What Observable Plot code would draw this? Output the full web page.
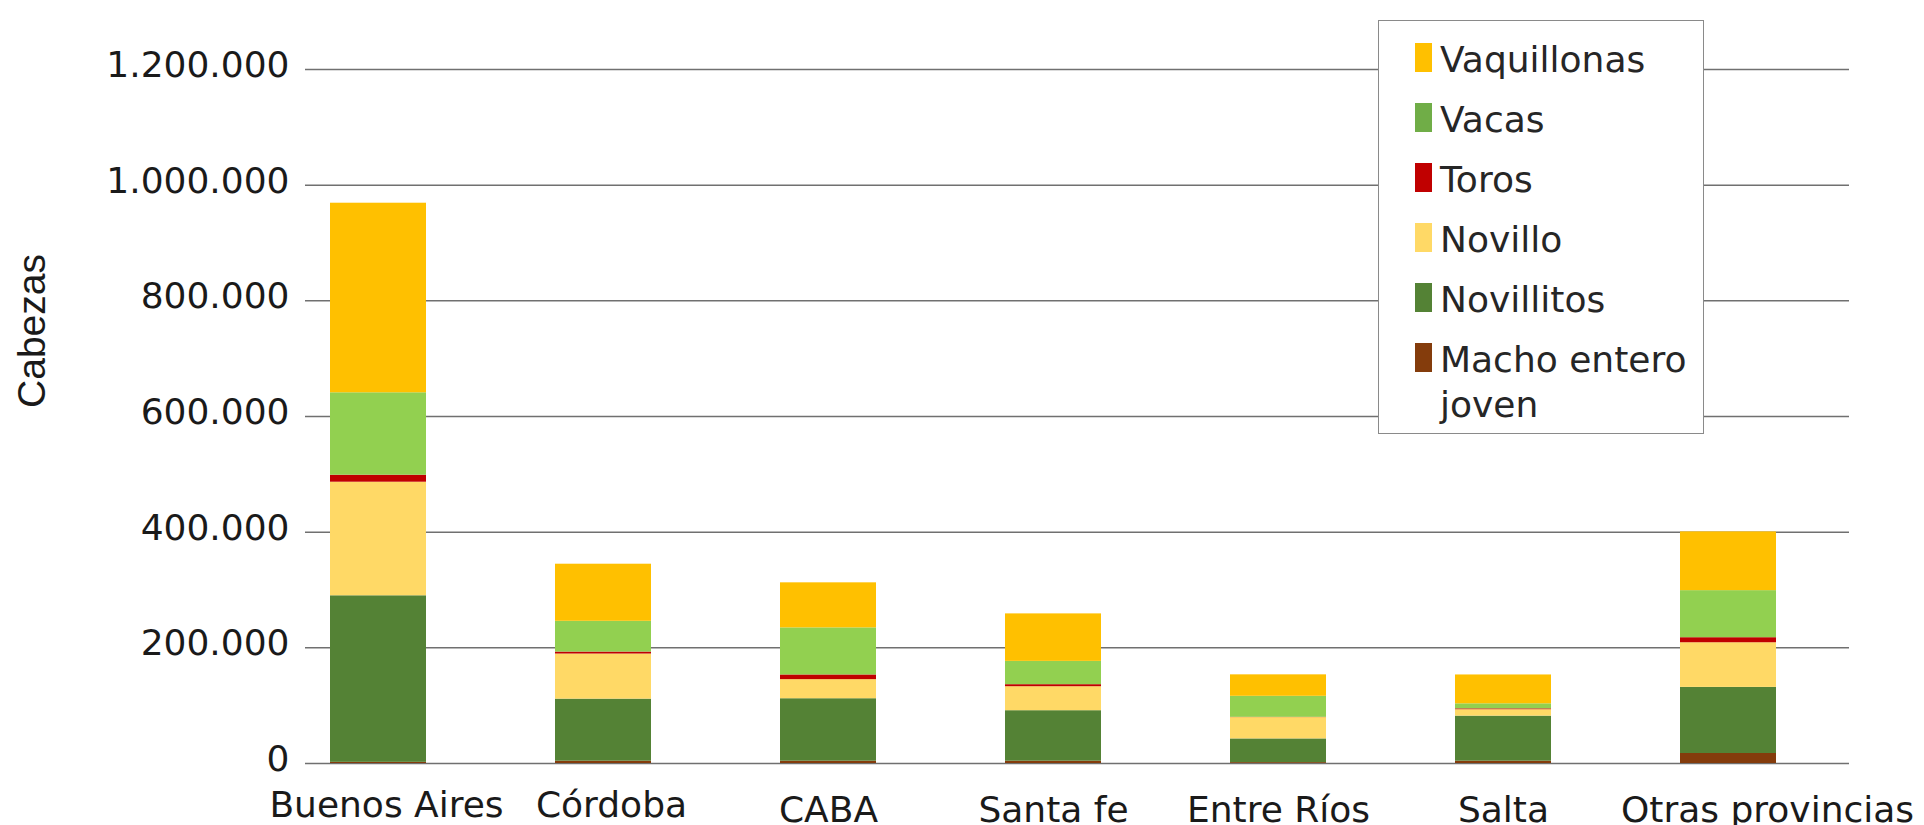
<!DOCTYPE html>
<html><head><meta charset="utf-8">
<script src="https://cdn.jsdelivr.net/npm/d3@7"></script>
<script src="https://cdn.jsdelivr.net/npm/@observablehq/plot@0.6"></script>
<style>
body{margin:0;background:#fff;}
#wrap{position:relative;width:1924px;height:825px;overflow:hidden;}
#chart svg{display:block;}
#ylabel{position:absolute;left:31px;top:331px;transform:translate(-50%,-50%) rotate(-90deg);
  font-family:"Liberation Sans";font-size:39px;color:#1a1a1a;white-space:nowrap;line-height:1;}
#legend{position:absolute;left:1378px;top:20px;width:326px;height:414px;border:1.5px solid #8a8a8a;background:#fff;
  font-family:"DejaVu Sans";font-size:36px;color:#262626;padding:16px 0 0 35.5px;box-sizing:border-box;}
.item{display:flex;align-items:flex-start;height:60px;}
.sw{width:17px;height:29px;margin-top:6px;margin-right:8.5px;flex:none;}
.lab{line-height:45px;width:255px;white-space:normal;}
</style>
</head><body>
<div id="wrap"><div id="chart"></div><div id="ylabel">Cabezas</div><div id="legend"></div></div>
<script>
// Data (stack order bottom -> top)
const provinces = ["Buenos Aires","Córdoba","CABA","Santa fe","Entre Ríos","Salta","Otras provincias"];
const categories = ["Macho entero joven","Novillitos","Novillo","Toros","Vacas","Vaquillonas"];
const macho       = [2000, 4000, 4000, 4000, 1500, 4000, 17300];
const novillitos  = [288000, 107300, 108000, 87300, 41000, 77900, 114300];
const novillo     = [196400, 78000, 33000, 41500, 36900, 11100, 77200];
const toros       = [12100, 3400, 8100, 3500, 500, 1500, 8700];
const vacas       = [142500, 53200, 81400, 40300, 36300, 8700, 81400];
const vaquillonas = [327800, 98700, 77900, 82100, 37100, 49900, 101600];
const yTicks = [0, 200000, 400000, 600000, 800000, 1000000, 1200000];

// Styles
const barColors = ["#843C0C","#548235","#FFD966","#C00000","#92D050","#FFC000"];
const legendColors = {"Vaquillonas":"#FFC000","Vacas":"#70AD47","Toros":"#C00000","Novillo":"#FFD966","Novillitos":"#548235","Macho entero joven":"#843C0C"};

const series = [macho, novillitos, novillo, toros, vacas, vaquillonas];
const rows = categories.flatMap((c, si) => provinces.map((p, pi) => ({provincia: p, categoria: c, valor: series[si][pi]})));

const fmt = d3.formatLocale({decimal: ",", thousands: ".", grouping: [3], currency: ["$", ""]}).format(",d");

const chart = Plot.plot({
  width: 1924, height: 825,
  marginTop: 69, marginBottom: 62, marginLeft: 305, marginRight: 75,
  style: {fontFamily: "DejaVu Sans", fontSize: "36px", color: "#1a1a1a", background: "transparent"},
  x: {type: "band", domain: provinces, range: [264.2, 1841.3], paddingInner: 0.574, paddingOuter: 0.287},
  y: {domain: [0, 1200000]},
  color: {domain: categories, range: barColors},
  marks: [
    Plot.ruleY(yTicks, {stroke: "#707070", strokeWidth: 1.5}),
    Plot.barY(rows, {x: "provincia", y: "valor", fill: "categoria", order: categories}),
    Plot.axisY({ticks: yTicks, tickSize: 0, tickPadding: 16, dy: -4, tickFormat: fmt, label: null}),
    Plot.axisX({ticks: provinces.slice(0, 2), tickSize: 0, tickPadding: 28, dx: 8, label: null}),
    Plot.axisX({ticks: provinces.slice(2, 6), tickSize: 0, tickPadding: 33, label: null}),
    Plot.axisX({ticks: provinces.slice(6), tickSize: 0, tickPadding: 33, dx: 39, label: null})
  ]
});
document.getElementById("chart").appendChild(chart);

const legend = document.getElementById("legend");
[...categories].reverse().forEach(c => {
  const item = document.createElement("div");
  item.className = "item";
  const sw = document.createElement("div");
  sw.className = "sw";
  sw.style.background = legendColors[c];
  const lab = document.createElement("div");
  lab.className = "lab";
  lab.textContent = c;
  item.appendChild(sw); item.appendChild(lab);
  legend.appendChild(item);
});
</script>
</body></html>
